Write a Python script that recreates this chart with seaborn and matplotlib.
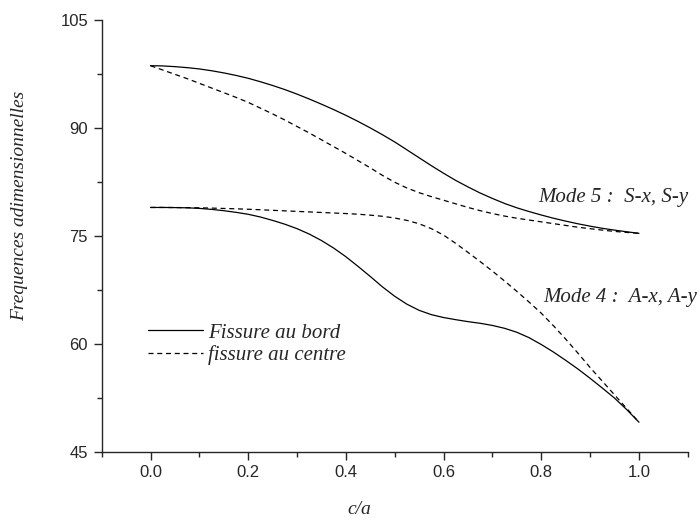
import numpy as np
import pandas as pd
import matplotlib
matplotlib.use("Agg")
import matplotlib.pyplot as plt
import seaborn as sns
from matplotlib.ticker import MultipleLocator

# c/a values
ca = [0.000, 0.025, 0.050, 0.075, 0.100, 0.125, 0.150, 0.175, 0.200, 0.225,
      0.250, 0.275, 0.300, 0.325, 0.350, 0.375, 0.400, 0.425, 0.450, 0.475,
      0.500, 0.525, 0.550, 0.575, 0.600, 0.625, 0.650, 0.675, 0.700, 0.725,
      0.750, 0.775, 0.800, 0.825, 0.850, 0.875, 0.900, 0.925, 0.950, 0.975, 1.000]

# Mode 5 (S-x, S-y)
mode5_bord = [98.65, 98.62, 98.52, 98.38, 98.20, 97.95, 97.65, 97.30, 96.90, 96.42,
              95.90, 95.33, 94.70, 94.02, 93.30, 92.55, 91.75, 90.90, 90.00, 89.05,
              88.05, 86.95, 85.85, 84.75, 83.70, 82.70, 81.80, 80.95, 80.20, 79.50,
              78.90, 78.38, 77.90, 77.45, 77.05, 76.68, 76.35, 76.05, 75.80, 75.57, 75.35]
mode5_centre = [98.65, 98.05, 97.45, 96.85, 96.20, 95.55, 94.90, 94.25, 93.55, 92.75,
                91.95, 91.10, 90.20, 89.30, 88.35, 87.40, 86.45, 85.45, 84.45, 83.40,
                82.45, 81.65, 81.00, 80.45, 79.95, 79.45, 78.95, 78.50, 78.10, 77.75,
                77.45, 77.20, 76.95, 76.70, 76.45, 76.20, 76.00, 75.80, 75.62, 75.48, 75.35]

# Mode 4 (A-x, A-y)
mode4_bord = [78.95, 78.95, 78.93, 78.90, 78.82, 78.68, 78.50, 78.27, 78.00, 77.62,
              77.15, 76.62, 76.00, 75.25, 74.35, 73.30, 72.10, 70.75, 69.35, 67.90,
              66.60, 65.50, 64.65, 64.05, 63.65, 63.35, 63.08, 62.85, 62.55, 62.15,
              61.60, 60.85, 59.90, 58.85, 57.70, 56.50, 55.20, 53.85, 52.45, 50.85, 49.10]
mode4_centre = [78.95, 78.95, 78.94, 78.92, 78.90, 78.86, 78.81, 78.76, 78.70, 78.63,
                78.55, 78.48, 78.40, 78.33, 78.25, 78.18, 78.10, 78.01, 77.88, 77.72,
                77.48, 77.15, 76.68, 76.00, 75.10, 73.95, 72.70, 71.42, 70.10, 68.72,
                67.28, 65.80, 64.25, 62.50, 60.65, 58.70, 56.70, 54.80, 52.90, 51.00, 49.10]

sns.set_style("ticks")
plt.rcParams["font.family"] = ["Liberation Sans", "DejaVu Sans"]

fig = plt.figure(figsize=(6.99, 5.2), dpi=100)
ax = fig.add_axes([0.1455, 0.1313, 0.8385, 0.8302])

serif_it = dict(family=["Liberation Serif", "DejaVu Serif"], style="italic")

curves = [
    (mode5_bord, "-", "Fissure au bord"),
    (mode5_centre, "--", "fissure au centre"),
    (mode4_bord, "-", None),
    (mode4_centre, "--", None),
]
for vals, ls, lab in curves:
    d = pd.DataFrame({"ca": ca, "f": vals})
    sns.lineplot(data=d, x="ca", y="f", ax=ax, color="black", linewidth=0.9,
                 linestyle=ls, label=lab, legend=False)

for line in ax.get_lines():
    if line.get_linestyle() == "--":
        line.set_dashes((4, 3))

ax.set_xlim(-0.1, 1.1)
ax.set_ylim(45, 105)
ax.set_xticks([0.0, 0.2, 0.4, 0.6, 0.8, 1.0])
ax.set_yticks([45, 60, 75, 90, 105])
ax.xaxis.set_minor_locator(MultipleLocator(0.1))
ax.yaxis.set_minor_locator(MultipleLocator(7.5))
ax.set_xticklabels(["0.0", "0.2", "0.4", "0.6", "0.8", "1.0"])
sns.despine(ax=ax)
for sp in ["left", "bottom"]:
    ax.spines[sp].set_linewidth(1.0)
ax.tick_params(which="major", direction="out", length=5.8, width=1.0, labelsize=12, pad=4)
ax.tick_params(which="minor", direction="out", length=3.4, width=1.0)

ax.set_xlabel("c/a", fontsize=14, **serif_it)
ax.set_ylabel("Frequences adimensionnelles", fontsize=14, **serif_it)
ax.xaxis.set_label_coords(0.44, -0.115)
ax.yaxis.set_label_coords(-0.125, 0.57)

ax.text(0.793, 80.4, "Mode 5 :  S-x, S-y", fontsize=15, ha="left", va="center", **serif_it)
ax.text(0.803, 66.5, "Mode 4 :  A-x, A-y", fontsize=15, ha="left", va="center", **serif_it)

handles, labels = ax.get_legend_handles_labels()
ax.legend(handles, labels, loc="upper left", bbox_to_anchor=(0.079, 0.298),
          frameon=False, handlelength=2.65, handletextpad=0.25, labelspacing=0.13,
          borderpad=0, borderaxespad=0,
          prop=dict(family=["Liberation Serif", "DejaVu Serif"], style="italic", size=15))

fig.savefig("out.png", dpi=100)
